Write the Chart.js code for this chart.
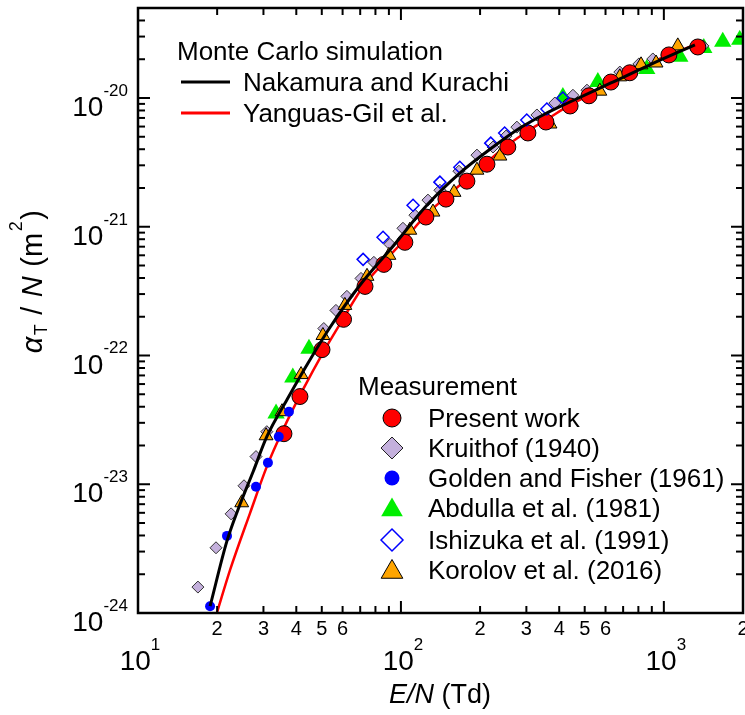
<!DOCTYPE html>
<html><head><meta charset="utf-8">
<script src="https://cdn.jsdelivr.net/npm/chart.js@4/dist/chart.umd.min.js"></script>
<style>html,body{margin:0;padding:0;background:#fff}canvas{display:block}</style>
</head><body>
<canvas id="c" width="745" height="715"></canvas>
<script>
// ---- axis ranges & ticks ----
const xRange = [10, 2000];
const yRange = [1e-24, 5e-20];
const xMajorTicks = [10, 100, 1000];
const xMajorExp = ['1', '2', '3'];
const xMinorLabelVals = [20, 30, 40, 50, 60, 200, 300, 400, 500, 600, 2000];
const xMinorLabelText = ['2', '3', '4', '5', '6', '2', '3', '4', '5', '6', '2'];
const yMajorTicks = [1e-24, 1e-23, 1e-22, 1e-21, 1e-20];
const yMajorExp = ['-24', '-23', '-22', '-21', '-20'];

// ---- Monte Carlo simulations (lines) ----
const nakamuraX = [18.8, 21.8, 24.4, 27.4, 30.9, 36.9, 44.0, 53.7, 69.8, 93.3, 126.7, 167.5, 224, 283.5, 352.8, 439.2, 628.8, 885, 1313];
const nakamuraY = [1.13e-24, 3.63e-24, 6.92e-24, 1.25e-23, 2.34e-23, 4.55e-23, 8.51e-23, 1.65e-22, 3.51e-22, 7.05e-22, 1.50e-21, 2.61e-21, 4.16e-21, 5.84e-21, 7.51e-21, 9.31e-21, 1.308e-20, 1.81e-20, 2.585e-20];
const yanguasX = [19.95, 22.4, 26.7, 30.9, 35.6, 42.4, 50.5, 60.1, 71.8, 86.1, 103.5, 124.4, 148.3, 178.2, 212.4, 255, 304, 356, 440, 519, 629, 742, 1045, 1313];
const yanguasY = [1.0e-24, 2.16e-24, 6.0e-24, 1.37e-23, 2.65e-23, 5.43e-23, 1.05e-22, 1.91e-22, 3.44e-22, 5.29e-22, 8.0e-22, 1.23e-21, 1.70e-21, 2.34e-21, 3.18e-21, 4.31e-21, 5.54e-21, 6.75e-21, 8.83e-21, 1.05e-20, 1.33e-20, 1.59e-20, 2.16e-20, 2.58e-20];

// ---- Measurements ----
const presentX = [35.9, 41.3, 50.1, 60.5, 73.0, 86.1, 103.5, 124.4, 148.3, 178.2, 212.4, 255, 304, 356, 440, 519, 629, 742, 1045, 1346];
const presentY = [2.47e-23, 4.80e-23, 1.11e-22, 1.91e-22, 3.44e-22, 5.10e-22, 7.57e-22, 1.19e-21, 1.64e-21, 2.26e-21, 3.06e-21, 4.16e-21, 5.35e-21, 6.51e-21, 8.67e-21, 1.04e-20, 1.33e-20, 1.57e-20, 2.16e-20, 2.49e-20];
const kruithofX = [16.9, 19.8, 22.6, 25.3, 28.1, 30.9, 50.9, 56.6, 62.3, 70.5, 78.9, 90.8, 101.8, 113, 126.7, 140.7, 166.2, 194.6, 224, 251, 276, 329, 385, 451, 510, 680, 804, 908, 1407];
const kruithofY = [1.59e-24, 3.21e-24, 5.89e-24, 9.73e-24, 1.64e-23, 2.56e-23, 1.62e-22, 2.24e-22, 2.88e-22, 3.97e-22, 5.29e-22, 7.31e-22, 9.73e-22, 1.23e-21, 1.61e-21, 1.92e-21, 2.70e-21, 3.60e-21, 4.16e-21, 5.06e-21, 5.94e-21, 7.38e-21, 9.14e-21, 1.05e-20, 1.15e-20, 1.59e-20, 1.84e-20, 2.01e-20, 2.54e-20];
const goldenX = [18.8, 21.8, 28.1, 31.2, 34.3, 37.5];
const goldenY = [1.13e-24, 3.97e-24, 9.57e-24, 1.47e-23, 2.34e-23, 3.66e-23];
const abdullaX = [33.5, 38.8, 44.7, 413, 561, 861, 1150, 1419, 1675, 1944];
const abdullaY = [3.54e-23, 6.74e-23, 1.13e-22, 1.02e-20, 1.33e-20, 1.68e-20, 2.09e-20, 2.45e-20, 2.73e-20, 2.83e-20];
const ishizukaX = [71.8, 85.5, 111.2, 140.7, 167.5, 219.6, 248, 301, 359, 413];
const ishizukaY = [5.58e-22, 8.28e-22, 1.47e-21, 2.22e-21, 2.90e-21, 4.46e-21, 5.35e-21, 6.75e-21, 8.21e-21, 1.0e-20];
const korolovX = [24.8, 30.7, 35.3, 41.7, 50.5, 61.2, 74.3, 90.0, 108.1, 132.4, 159.2, 194.6, 238, 369, 571, 680, 819, 934, 1130];
const korolovY = [7.18e-24, 2.38e-23, 3.66e-23, 7.11e-23, 1.43e-22, 2.45e-22, 4.12e-22, 6.00e-22, 9.40e-22, 1.30e-21, 1.85e-21, 2.75e-21, 3.54e-21, 6.28e-21, 1.13e-20, 1.46e-20, 1.81e-20, 1.87e-20, 2.54e-20];

const zip = (xs, ys) => xs.map((x, i) => ({x, y: ys[i]}));

const FONT = '"Liberation Sans", Arial, sans-serif';
const C = {
  red: '#FF0000', lav: '#C4B0DC', blue: '#0000FF', green: '#00EE00', orange: '#FFA500'
};

function fontStr(size, italic) { return (italic ? 'italic ' : '') + size + 'px ' + FONT; }

// draws "10" with superscript exponent
function drawPow(ctx, x, yMid, exp, bs, es, align) {
  ctx.font = fontStr(bs); const wb = ctx.measureText('10').width;
  ctx.font = fontStr(es); const we = ctx.measureText(exp).width;
  const total = wb + we;
  let x0 = align === 'right' ? x - total : (align === 'center' ? x - total / 2 : x);
  const base = yMid + 0.358 * bs;
  ctx.textAlign = 'left'; ctx.textBaseline = 'alphabetic';
  ctx.font = fontStr(bs); ctx.fillText('10', x0, base);
  ctx.font = fontStr(es); ctx.fillText(exp, x0 + wb, base - 0.716 * bs);
}

function marker(ctx, style, x, y, r, fill, stroke, lw) {
  ctx.beginPath();
  if (style === 'circle') ctx.arc(x, y, r, 0, Math.PI * 2);
  else if (style === 'diamond') { ctx.moveTo(x - r, y); ctx.lineTo(x, y - r); ctx.lineTo(x + r, y); ctx.lineTo(x, y + r); ctx.closePath(); }
  else if (style === 'triangle') {
    for (let k = 0; k < 3; k++) { const a = k * 2 * Math.PI / 3; const px = x + Math.sin(a) * r, py = y - Math.cos(a) * r; k ? ctx.lineTo(px, py) : ctx.moveTo(px, py); }
    ctx.closePath();
  }
  if (fill) { ctx.fillStyle = fill; ctx.fill(); }
  if (stroke && lw) { ctx.strokeStyle = stroke; ctx.lineWidth = lw; ctx.stroke(); }
}

const decor = {
  id: 'decor',
  afterDatasetsDraw(chart) {
    const ctx = chart.ctx, a = chart.chartArea, xs = chart.scales.x, ys = chart.scales.y;
    ctx.save();
    // frame
    ctx.strokeStyle = '#000'; ctx.lineWidth = 2.5;
    ctx.strokeRect(a.left, a.top, a.right - a.left, a.bottom - a.top);
    // ticks
    ctx.lineWidth = 2;
    const tick = (x1, y1, x2, y2) => { ctx.beginPath(); ctx.moveTo(x1, y1); ctx.lineTo(x2, y2); ctx.stroke(); };
    for (let d = 10; d <= 1000; d *= 10) {
      for (let k = 1; k <= 9; k++) {
        const v = k * d; if (v < xRange[0] || v > xRange[1]) continue;
        const px = xs.getPixelForValue(v), L = k === 1 ? 12 : 7;
        tick(px, a.bottom, px, a.bottom - L); tick(px, a.top, px, a.top + L);
      }
    }
    for (let e = -24; e <= -20; e++) {
      for (let k = 1; k <= 9; k++) {
        const v = k * Math.pow(10, e); if (v > yRange[1] * 1.0001) continue;
        const py = ys.getPixelForValue(v), L = k === 1 ? 12 : 7;
        tick(a.left, py, a.left + L, py); tick(a.right, py, a.right - L, py);
      }
    }
    ctx.fillStyle = '#000';
    // y tick labels
    yMajorTicks.forEach((v, i) => drawPow(ctx, 128, ys.getPixelForValue(v) + 8, yMajorExp[i], 28, 17, 'right'));
    // x tick labels
    xMajorTicks.forEach((v, i) => drawPow(ctx, xs.getPixelForValue(v) + 2, 660, xMajorExp[i], 28, 17, 'center'));
    ctx.font = fontStr(20); ctx.textAlign = 'center'; ctx.textBaseline = 'middle';
    xMinorLabelVals.forEach((v, i) => ctx.fillText(xMinorLabelText[i], xs.getPixelForValue(v), 629));
    // x title
    ctx.textBaseline = 'alphabetic';
    ctx.font = fontStr(27, true); const w1 = ctx.measureText('E/N').width;
    ctx.font = fontStr(27); const w2 = ctx.measureText(' (Td)').width;
    let tx = 440 - (w1 + w2) / 2;
    ctx.textAlign = 'left';
    ctx.font = fontStr(27, true); ctx.fillText('E/N', tx, 703);
    ctx.font = fontStr(27); ctx.fillText(' (Td)', tx + w1, 703);
    // y title (rotated)
    const parts = [
      {t: 'α', s: 29, it: true, dy: 0}, {t: 'T', s: 18, dy: 5}, {t: ' / ', s: 29, dy: 0},
      {t: 'N', s: 29, it: true, dy: 0}, {t: ' (m', s: 29, dy: 0}, {t: '2', s: 18, dy: -20}, {t: ')', s: 29, dy: 0}
    ];
    let tw = 0; parts.forEach(p => { ctx.font = fontStr(p.s, p.it); p.w = ctx.measureText(p.t).width + 1.5; tw += p.w; });
    ctx.save(); ctx.translate(42, 281); ctx.rotate(-Math.PI / 2);
    let cx = -tw / 2;
    parts.forEach(p => { ctx.font = fontStr(p.s, p.it); ctx.fillText(p.t, cx, p.dy); cx += p.w; });
    ctx.restore();
    // legend 1
    ctx.font = fontStr(26); ctx.textAlign = 'left'; ctx.textBaseline = 'alphabetic';
    ctx.fillText('Monte Carlo simulation', 177, 60);
    ctx.lineWidth = 3; ctx.strokeStyle = '#000'; tick(181, 82, 230, 82);
    ctx.strokeStyle = C.red; tick(181, 113, 230, 113);
    ctx.fillText('Nakamura and Kurachi', 243, 91);
    ctx.fillText('Yanguas-Gil et al.', 243, 122);
    // legend 2
    ctx.fillText('Measurement', 358, 395);
    const rows = [
      ['Present work', 'circle', 9, C.red, '#000', 1],
      ['Kruithof (1940)', 'diamond', 11, C.lav, '#222', 1],
      ['Golden and Fisher (1961)', 'circle', 7.5, C.blue, null, 0],
      ['Abdulla et al. (1981)', 'triangle', 12.5, C.green, null, 0],
      ['Ishizuka et al. (1991)', 'diamond', 11, '#fff', C.blue, 1.5],
      ['Korolov et al. (2016)', 'triangle', 12.5, C.orange, '#000', 1]
    ];
    const rowY = [418, 448, 478, 508, 540, 570];
    rows.forEach((r, i) => {
      const my = r[1] === 'triangle' ? rowY[i] + 2 : rowY[i];
      marker(ctx, r[1], 392, my, r[2], r[3], r[4], r[5]);
      ctx.fillStyle = '#000'; ctx.font = fontStr(26);
      ctx.fillText(r[0], 428, rowY[i] + 9);
    });
    ctx.restore();
  }
};

new Chart(document.getElementById('c'), {
  type: 'scatter',
  data: {
    datasets: [
      {label: 'Nakamura and Kurachi', data: zip(nakamuraX, nakamuraY), showLine: true, borderColor: '#000', borderWidth: 3, pointRadius: 0, cubicInterpolationMode: 'monotone', order: 0, clip: 0},
      {label: 'Golden and Fisher (1961)', data: zip(goldenX, goldenY), pointStyle: 'circle', pointRadius: 5, backgroundColor: C.blue, borderWidth: 0, order: 1, clip: 0},
      {label: 'Ishizuka et al. (1991)', data: zip(ishizukaX, ishizukaY), pointStyle: 'rectRot', pointRadius: 6, backgroundColor: 'rgba(255,255,255,0)', borderColor: C.blue, borderWidth: 1.5, order: 2, clip: 0},
      {label: 'Present work', data: zip(presentX, presentY), pointStyle: 'circle', pointRadius: 8, backgroundColor: C.red, borderColor: '#000', borderWidth: 1, order: 3, clip: 0},
      {label: 'Korolov et al. (2016)', data: zip(korolovX, korolovY), pointStyle: 'triangle', pointRadius: 8, backgroundColor: C.orange, borderColor: '#000', borderWidth: 1, order: 4, clip: 0},
      {label: 'Kruithof (1940)', data: zip(kruithofX, kruithofY), pointStyle: 'rectRot', pointRadius: 6, backgroundColor: C.lav, borderColor: '#333', borderWidth: 1, order: 5, clip: 0},
      {label: 'Abdulla et al. (1981)', data: zip(abdullaX, abdullaY), pointStyle: 'triangle', pointRadius: 10, backgroundColor: C.green, borderWidth: 0, order: 6, clip: 0},
      {label: 'Yanguas-Gil et al.', data: zip(yanguasX, yanguasY), showLine: true, borderColor: C.red, borderWidth: 2.5, pointRadius: 0, cubicInterpolationMode: 'monotone', order: 7, clip: 0}
    ]
  },
  options: {
    responsive: false, animation: false,
    layout: {autoPadding: false, padding: {top: 8, right: 2, left: 0, bottom: 0}},
    plugins: {legend: {display: false}, tooltip: {enabled: false}},
    scales: {
      x: {type: 'logarithmic', min: xRange[0], max: xRange[1], ticks: {display: false}, grid: {display: false}, border: {display: false},
          afterFit: s => { s.height = 102; }},
      y: {type: 'logarithmic', min: yRange[0], max: yRange[1], ticks: {display: false}, grid: {display: false}, border: {display: false},
          afterFit: s => { s.width = 138; }}
    }
  },
  plugins: [decor]
});
</script>
</body></html>
